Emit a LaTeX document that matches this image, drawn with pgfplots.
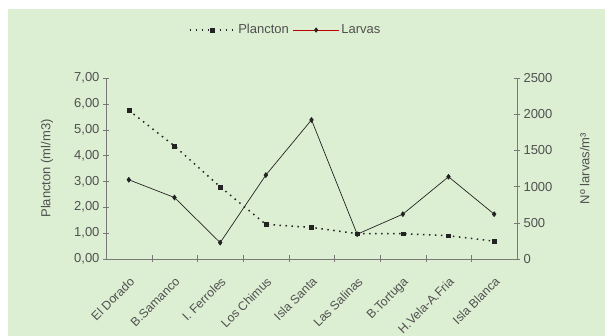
\documentclass[border=0pt]{standalone}
\usepackage{fontspec}
\setmainfont{Liberation Sans}
\usepackage{pgfplots}
\pgfplotsset{compat=1.18}
\definecolor{bg}{RGB}{221,239,211}
\definecolor{txt}{RGB}{80,80,80}
\definecolor{ax}{RGB}{120,120,120}
\definecolor{ln}{RGB}{35,35,35}
\newcommand\f{\fontsize{13}{15}\selectfont}
\newcommand\fx{\fontsize{12.3}{14}\selectfont}
\begin{document}
\begin{tikzpicture}
\useasboundingbox (0,0) rectangle (605pt,336pt);
\fill[white] (0,0) rectangle (605pt,336pt);
\fill[bg] (8pt,0) rectangle (605pt,327pt);
\begin{axis}[
  at={(106pt,77pt)}, anchor=south west,
  scale only axis, width=411pt, height=181pt,
  xmin=-0.5, xmax=8.5, ymin=0, ymax=7,
  axis y line*=left, axis x line*=bottom,
  axis line style={ax, -},
  xtick={0,...,8},
  xticklabels={El Dorado,B.Samanco,{I. Ferroles},Los Chimus,Isla Santa,Las Salinas,B.Tortuga,H.Vela-A.Fria,Isla Blanca},
  major x tick style={draw=none},
  minor xtick={0.5,1.5,...,7.5},
  minor x tick style={ax},
  minor tick length=7pt,
  xticklabel style={rotate=45, anchor=north east, font=\fx, text=txt, yshift=-9pt, xshift=-9pt, inner sep=1pt},
  ytick={0,1,...,7},
  yticklabel style={text=txt, font=\f},
  /pgf/number format/.cd, fixed, zerofill, precision=2, use comma, assume math mode=true,
  /pgfplots/.cd,
  tick align=center, major tick length=6pt,
  ytick style={ax},
  ylabel={Plancton (ml/m3)},
  ylabel style={at={(rel axis cs:-0.1436,0.5)}, anchor=center, text=txt, font=\f},
  legend style={draw=none, fill=none, at={(0.437,1.265)}, anchor=center, font=\f, text=txt, legend columns=2, inner sep=0pt,
    /tikz/every even column/.append style={column sep=2pt}},
  legend cell align=left,
  legend image code/.code={\draw[mark repeat=2, mark phase=2, #1] plot coordinates {(0pt,0pt) (23pt,0pt) (46pt,0pt)};},
  clip=false,
]
\addplot[ln, line width=1.5pt, dash pattern=on 1.5pt off 4.5pt, mark=square*, mark size=1.9pt, mark options={solid, fill=ln, draw=ln, line width=0.4pt}]
  coordinates {(0,5.75) (1,4.37) (2,2.79) (3,1.34) (4,1.22) (5,0.98) (6,0.98) (7,0.90) (8,0.69)};
\addlegendentry{Plancton}
\addlegendimage{red!75!black, line width=0.6pt, mark=diamond*, mark size=2.2pt, mark options={fill=ln, draw=ln}}
\addlegendentry{Larvas}
\end{axis}
\begin{axis}[
  at={(106pt,77pt)}, anchor=south west,
  scale only axis, width=411pt, height=181pt,
  xmin=-0.5, xmax=8.5, ymin=0, ymax=2500,
  axis y line*=right, axis x line=none,
  axis line style={ax, -},
  ytick={0,500,...,2500},
  yticklabel style={text=txt, font=\f},
  /pgf/number format/.cd, fixed, set thousands separator={}, assume math mode=true,
  /pgfplots/.cd,
  tick align=center, major tick length=6pt,
  ytick style={ax},
  ylabel={Nº larvas/m³},
  ylabel style={at={(rel axis cs:1.165,0.5)}, anchor=center, text=txt, font=\f},
  clip=false,
]
\addplot[ln, line width=0.7pt, mark=diamond*, mark size=2.4pt, mark options={fill=ln, draw=ln}]
  coordinates {(0,1094) (1,849) (2,226) (3,1159) (4,1921) (5,342) (6,619) (7,1136) (8,619)};
\end{axis}
\end{tikzpicture}
\end{document}
